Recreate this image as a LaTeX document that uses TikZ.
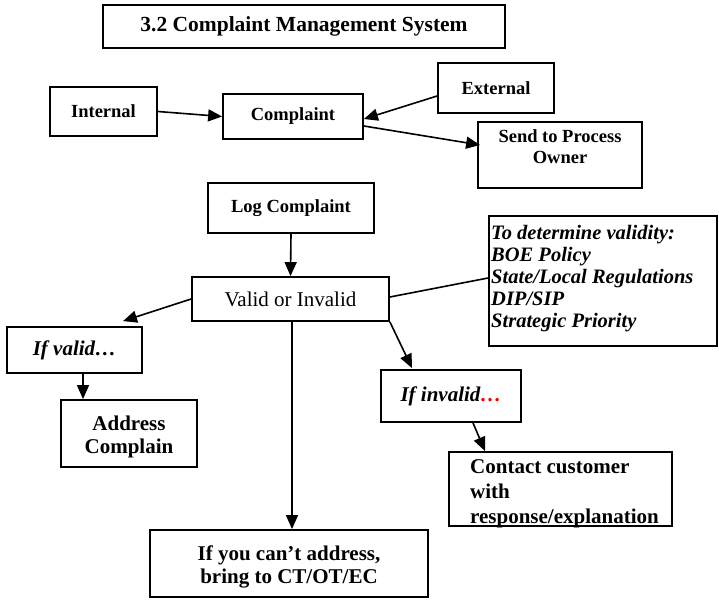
\documentclass[tikz,border=0pt]{standalone}
\usepackage{fontspec}
\setmainfont{Liberation Serif}
\usetikzlibrary{arrows.meta}
\begin{document}
\begin{tikzpicture}[x=1pt,y=-1pt,
  box/.style={draw, line width=1.8pt, inner sep=0pt, align=center},
  smallbold/.style={font=\fontsize{18.5}{21}\selectfont\bfseries},
  bigbold/.style={font=\fontsize{21}{23}\selectfont\bfseries},
  bigital/.style={font=\fontsize{21}{23}\selectfont\bfseries\itshape},
  plain/.style={font=\fontsize{21}{23}\selectfont},
  ruletext/.style={font=\fontsize{20.5}{22}\selectfont\bfseries\itshape, align=left, inner sep=0pt},
  flow/.style={line width=1.6pt, -{Triangle[length=14pt,width=12pt]}},
  link/.style={line width=1.6pt}]
\useasboundingbox (0,0) rectangle (719,602);

% title
\node[box, font=\fontsize{21.5}{23}\selectfont\bfseries, minimum width=402pt, minimum height=43pt] (title) at (304,26.5) {3.2 Complaint Management System};

% intake of complaints
\node[box, smallbold, minimum width=107pt, minimum height=49pt] (int) at (103.5,111.5) {Internal};
\node[box, smallbold, minimum width=140pt, minimum height=45pt] (comp) at (293,116.5) {Complaint};
\node[box, smallbold, minimum width=116pt, minimum height=50pt] (ext) at (496,88) {External};
\node[box, minimum width=164pt, minimum height=66pt] (send) at (560,155) {};
\node[smallbold, align=center, inner sep=0pt] (sendtxt) at (560,147) {Send to Process\\Owner};

\draw[flow] (int.east) -- (comp.west);
\draw[flow] ([yshift=-8pt]ext.west) -- ([yshift=-2.5pt]comp.east);
\draw[flow] ([yshift=-9.5pt]comp.east) -- ([xshift=3pt,yshift=10pt]send.west);

% logging and validation
\node[box, smallbold, minimum width=166pt, minimum height=50pt] (log) at (291,208) {Log Complaint};
\node[box, plain, minimum width=197pt, minimum height=44pt] (valid) at (290.5,299) {Valid or Invalid};
\node[box, minimum width=228pt, minimum height=130pt] (rules) at (603,281) {};
\node[ruletext, anchor=north west] (rulestxt) at (491,225)
  {To determine validity:\\BOE Policy\\State/Local Regulations\\DIP/SIP\\Strategic Priority};

\draw[flow] (log.south) -- (valid.north);
\draw[link] ([yshift=2pt]valid.east) -- ([yshift=3pt]rules.west);

% outcomes
\node[box, bigital, minimum width=135pt, minimum height=46pt] (ifv) at (74.5,350) {If valid…};
\node[box, minimum width=136pt, minimum height=67pt] (addr) at (129,433.5) {};
\node[bigbold, align=center, inner sep=0pt] (addrtxt) at (129,436.5) {Address\\Complain};
\node[box, bigital, minimum width=140pt, minimum height=52pt] (inv) at (451,396) {If invalid\textcolor{red}{…}};
\node[box, minimum width=223pt, minimum height=74pt] (cont) at (560.5,489) {};
\node[align=left, inner sep=0pt, anchor=north west, font=\fontsize{21}{25}\selectfont\bfseries] (conttxt) at (470,459)
  {Contact customer\\with\\response/explanation};
\node[box, minimum width=278pt, minimum height=67pt] (bot) at (289,563.5) {};
\node[bigbold, align=center, inner sep=0pt] (bottxt) at (289,567) {If you can’t address,\\bring to CT/OT/EC};

\draw[flow] (valid.west) -- ([xshift=48.5pt,yshift=5pt]ifv.north);
\draw[flow] ([xshift=8.5pt]ifv.south) -- ([xshift=-46pt]addr.north);
\draw[flow] (valid.south east) -- ([xshift=-39pt,yshift=1pt]inv.north);
\draw[flow] ([xshift=22pt]inv.south) -- ([xshift=-75.5pt]cont.north);
\draw[flow] ([xshift=1.5pt]valid.south) -- ([xshift=3pt]bot.north);
\end{tikzpicture}
\end{document}
